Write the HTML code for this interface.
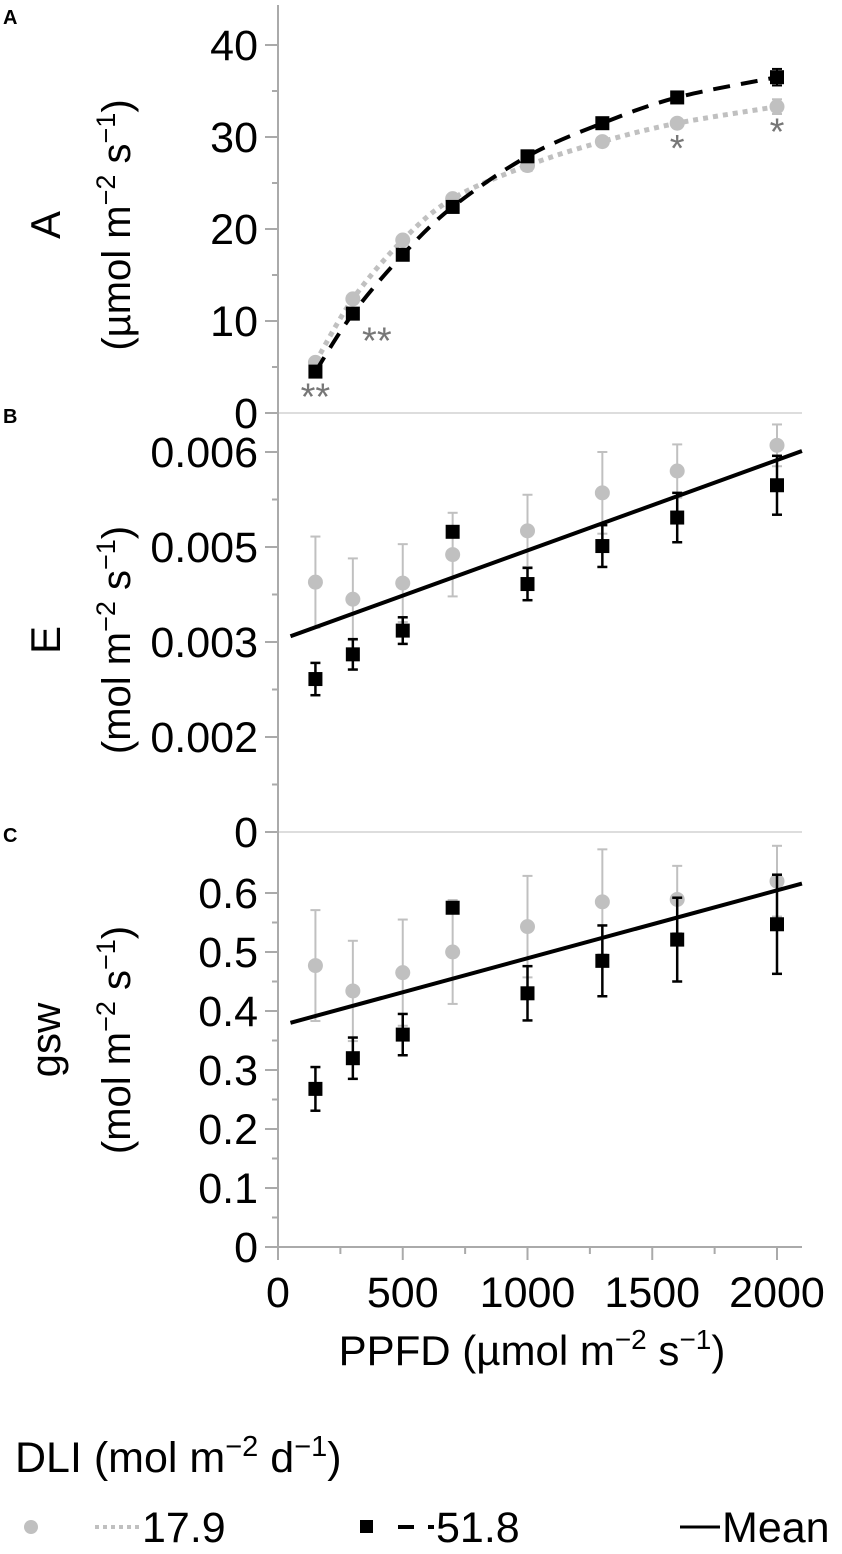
<!DOCTYPE html>
<html><head><meta charset="utf-8"><style>
body{margin:0;background:#fff}
svg text{font-family:"Liberation Sans",sans-serif}
</style></head><body>
<svg id="chart" width="842" height="1549" viewBox="0 0 842 1549" xmlns="http://www.w3.org/2000/svg">
<g id="panels"></g>
<g font-weight="bold" font-size="20">
<text x="3" y="24">A</text>
<text x="3" y="423">B</text>
<text x="3" y="842">C</text>
</g>
<text x="532" y="1365" font-size="42" text-anchor="middle">PPFD (µmol m<tspan dy="-16" font-size="28">−2</tspan><tspan dy="16"> s</tspan><tspan dy="-16" font-size="28">−1</tspan><tspan dy="16">)</tspan></text>
<g>
<text x="15" y="1472" font-size="43">DLI (mol m<tspan dy="-16" font-size="29">−2</tspan><tspan dy="16"> d</tspan><tspan dy="-16" font-size="29">−1</tspan><tspan dy="16">)</tspan></text>
<g>
<circle cx="31" cy="1527" r="7" fill="#c0c0c0"/>
<line x1="95" y1="1527" x2="140" y2="1527" stroke="#c0c0c0" stroke-width="4" stroke-dasharray="4 4"/>
<text x="142" y="1542" font-size="43">17.9</text></g>
<g>
<rect x="360" y="1520" width="13" height="13" fill="#000"/>
<line x1="398" y1="1527" x2="414" y2="1527" stroke="#000" stroke-width="4"/>
<line x1="428" y1="1527" x2="434" y2="1527" stroke="#000" stroke-width="4"/>
<text x="436" y="1542" font-size="43">51.8</text></g>
<g>
<line x1="680" y1="1527" x2="720" y2="1527" stroke="#000" stroke-width="3"/>
<text x="722" y="1542" font-size="43">Mean</text></g>
</g>
</svg>
<script>
const ppfd=[150,300,500,700,1000,1300,1600,2000];
const xTicks=[0,500,1000,1500,2000];
const xTickLabels=["0","500","1000","1500","2000"];
// Panel A
const aGray=[5.5,12.4,18.8,23.3,26.9,29.5,31.5,33.3];
const aBlack=[4.5,10.8,17.2,22.4,27.9,31.5,34.3,36.5];
const aGrayErr=[0.4,0.4,0.4,0.4,0.6,0.5,0.5,0.8];
const aBlackErr=[0.3,0.3,0.3,0.3,0.3,0.3,0.4,0.9];
const aTicks=[0,10,20,30,40];
const aTickLabels=["0","10","20","30","40"];
const aSig=["**","**","","","","","*","*"];
// Panel B
const eGray=[0.00463,0.00445,0.00462,0.00492,0.00517,0.00557,0.0058,0.00607];
const eGrayErr=[0.00048,0.00043,0.00041,0.00044,0.00038,0.00043,0.00028,0.00022];
const eBlack=[0.00361,0.00387,0.00412,0.00516,0.00461,0.00501,0.00531,0.00565];
const eBlackErr=[0.00017,0.00016,0.00014,0,0.00017,0.00022,0.00026,0.00031];
const eMeanX=[50,2100];
const eMean=[0.00406,0.00601];
const eTicks=[0.006,0.005,0.004,0.003,0.002];
const eTickLabels=["0.006","0.005","0.003","0.002","0"];
// Panel C
const gGray=[0.477,0.434,0.465,0.5,0.543,0.585,0.589,0.62];
const gGrayErr=[0.094,0.085,0.09,0.088,0.086,0.089,0.057,0.06];
const gBlack=[0.268,0.32,0.36,0.575,0.43,0.485,0.521,0.547];
const gBlackErr=[0.037,0.035,0.035,0.005,0.046,0.06,0.071,0.084];
const gMeanX=[50,2100];
const gMean=[0.38,0.616];
const gTicks=[0,0.1,0.2,0.3,0.4,0.5,0.6];
const gTickLabels=["0","0.1","0.2","0.3","0.4","0.5","0.6"];

const NS="http://www.w3.org/2000/svg";
const root=document.getElementById('panels');
const X=v=>278+v*(777-278)/2000;
const yA=v=>413-v*9.2;
const yE=v=>452+(0.006-v)*95000;
const yG=v=>1247-v*590;
function mk(tag,attrs,parent){const e=document.createElementNS(NS,tag);for(const k in attrs)e.setAttribute(k,attrs[k]);(parent||root).appendChild(e);return e;}

function axis(name,top,bottom,ticks,labels,yf){
  const g=mk('g',{});
  
  
  mk('line',{x1:278,y1:top,x2:278,y2:bottom,stroke:'#aaa','stroke-width':2},g);
  ticks.forEach((t,i)=>{
    const y=yf(t);
    mk('line',{x1:265,y1:y,x2:278,y2:y,stroke:'#aaa','stroke-width':2},g);
    const tx=mk('text',{x:258,y:y+15,'font-size':43,'text-anchor':'end'},g);
    tx.textContent=labels[i];
    
    
    if(i<ticks.length-1){const y2=yf(ticks[i+1]);const ym=(y+y2)/2;mk('line',{x1:272,y1:ym,x2:278,y2:ym,stroke:'#aaa','stroke-width':2},g);}
  });
}
function ytitle(name,cy,main,unitPrefix){
  const g=mk('text',{transform:`translate(60,${cy}) rotate(-90)`,'font-size':42,'text-anchor':'middle'});
  
  
  g.textContent=main;
  const u=mk('text',{transform:`translate(130,${cy}) rotate(-90)`,'font-size':40,'text-anchor':'middle'});
  
  
  u.innerHTML='('+unitPrefix+'mol m<tspan dy="-15" font-size="27">−2</tspan><tspan dy="15"> s</tspan><tspan dy="-15" font-size="27">−1</tspan><tspan dy="15">)</tspan>';
}
function errbars(vals,errs,yf,color,w,name){
  vals.forEach((v,i)=>{
    if(!errs[i])return;
    const x=X(ppfd[i]),y1=yf(v+errs[i]),y2=yf(v-errs[i]);
    const g=mk('g',{stroke:color,'stroke-width':w});
    
    
    mk('line',{x1:x,y1:y1,x2:x,y2:y2},g);
    mk('line',{x1:x-5,y1:y1,x2:x+5,y2:y1},g);
    mk('line',{x1:x-5,y1:y2,x2:x+5,y2:y2},g);
  });
}
function points(vals,yf,type,name){
  vals.forEach((v,i)=>{
    const x=X(ppfd[i]),y=yf(v);
    let e;
    if(type==='c')e=mk('circle',{cx:x,cy:y,r:7.5,fill:'#c0c0c0'});
    else e=mk('rect',{x:x-7,y:y-7,width:14,height:14,fill:'#000'});
    
    
  });
}
function smooth(vals,yf){
  const p=vals.map((v,i)=>[X(ppfd[i]),yf(v)]);
  let d=`M${p[0][0]},${p[0][1]}`;
  for(let i=0;i<p.length-1;i++){
    const p0=p[i-1]||p[i],p1=p[i],p2=p[i+1],p3=p[i+2]||p[i+1];
    const c1=[p1[0]+(p2[0]-p0[0])/6,p1[1]+(p2[1]-p0[1])/6];
    const c2=[p2[0]-(p3[0]-p1[0])/6,p2[1]-(p3[1]-p1[1])/6];
    d+=` C${c1[0]},${c1[1]} ${c2[0]},${c2[1]} ${p2[0]},${p2[1]}`;
  }
  return d;
}
function meanLine(xs,ys,yf,name){
  const l=mk('line',{x1:X(xs[0]),y1:yf(ys[0]),x2:X(xs[1]),y2:yf(ys[1]),stroke:'#000','stroke-width':4});
  
  
}
[413,832].forEach(y=>{const l=mk('line',{x1:278,y1:y,x2:802,y2:y,stroke:'#ddd','stroke-width':2});

});

// Panel A
axis('panel-a',5,413,aTicks,aTickLabels,yA);
ytitle('panel-a',225,'A','µ');
errbars(aGray,aGrayErr,yA,'#c0c0c0',2,'a-17-9');
errbars(aBlack,aBlackErr,yA,'#000',2,'a-51-8');
const pg=mk('path',{d:smooth(aGray,yA),fill:'none',stroke:'#c0c0c0','stroke-width':5,'stroke-dasharray':'5 5'});


points(aGray,yA,'c','a-17-9');
const pb=mk('path',{d:smooth(aBlack,yA),fill:'none',stroke:'#000','stroke-width':4,'stroke-dasharray':'17 11'});


points(aBlack,yA,'s','a-51-8');
aSig.forEach((s,i)=>{if(!s)return;
  const off=i===1?[24,30]:[0,28];
  const yy=Math.max(yA(aGray[i]),yA(aBlack[i]))+off[1]+10;
  const t=mk('text',{x:X(ppfd[i])+off[0],y:yy,'font-size':38,fill:'#777','text-anchor':'middle'});
  t.textContent=s;
  
  
});

// Panel B
axis('panel-b',413,832,eTicks,eTickLabels,yE);
ytitle('panel-b',640,'E','');
errbars(eGray,eGrayErr,yE,'#c0c0c0',2,'e-17-9');
points(eGray,yE,'c','e-17-9');
errbars(eBlack,eBlackErr,yE,'#000',2.5,'e-51-8');
points(eBlack,yE,'s','e-51-8');
meanLine(eMeanX,eMean,yE,'e');

// Panel C
axis('panel-c',832,1247,gTicks,gTickLabels,yG);
ytitle('panel-c',1040,'gsw','');
errbars(gGray,gGrayErr,yG,'#c0c0c0',2,'gsw-17-9');
points(gGray,yG,'c','gsw-17-9');
errbars(gBlack,gBlackErr,yG,'#000',2.5,'gsw-51-8');
points(gBlack,yG,'s','gsw-51-8');
meanLine(gMeanX,gMean,yG,'gsw');

// X axis
const xg=mk('g',{});


mk('line',{x1:265,y1:1247,x2:802,y2:1247,stroke:'#aaa','stroke-width':2},xg);
xTicks.forEach((t,i)=>{
  mk('line',{x1:X(t),y1:1247,x2:X(t),y2:1260,stroke:'#aaa','stroke-width':2},xg);
  if(i<xTicks.length-1){const xm=X((t+xTicks[i+1])/2);mk('line',{x1:xm,y1:1247,x2:xm,y2:1254,stroke:'#aaa','stroke-width':2},xg);}
  const tx=mk('text',{x:X(t),y:1307,'font-size':43,'text-anchor':'middle'},xg);
  tx.textContent=xTickLabels[i];
  
  
});
</script>
</body></html>
